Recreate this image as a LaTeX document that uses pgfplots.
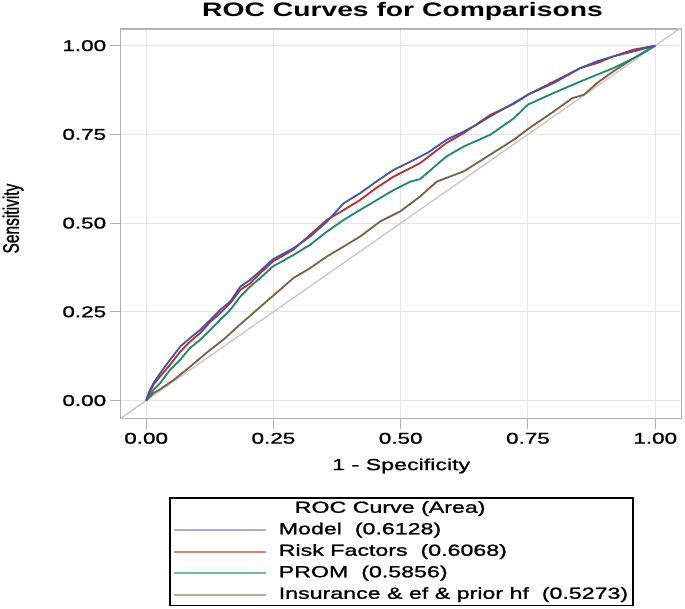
\documentclass[border=0pt]{standalone}
\usepackage{pgfplots}
\pgfplotsset{compat=1.18}
\usepackage{fontspec}
\setmainfont{Liberation Sans}[FakeStretch=1.45]
\newfontfamily\medsans{Liberation Sans}[FakeStretch=1.45, FakeBold=1.2]
\newfontfamily\plainsans{Liberation Sans}[FakeBold=1.2]
\definecolor{cModel}{RGB}{69,84,170}
\definecolor{cRisk}{RGB}{190,45,45}
\definecolor{cProm}{RGB}{30,135,110}
\definecolor{cIns}{RGB}{130,95,60}
\definecolor{gridc}{RGB}{228,228,228}
\definecolor{axc}{RGB}{178,178,178}
\begin{document}
\begin{tikzpicture}
\path[use as bounding box] (-120.7pt,-190.7pt) rectangle (564.3pt,418.3pt);
\begin{axis}[
  width=561pt, height=389.3pt, scale only axis,
  xmin=-0.05, xmax=1.052, ymin=-0.05, ymax=1.047,
  xtick={0,0.25,0.5,0.75,1}, ytick={0,0.25,0.5,0.75,1},
  xticklabels={0.00,0.25,0.50,0.75,1.00},
  yticklabels={0.00,0.25,0.50,0.75,1.00},
  /pgf/number format/assume math mode=true,
  tick label style={font=\medsans\fontsize{15.5}{18}\selectfont},
  tick align=outside, major tick length=11pt,
  tick style={axc, line width=1pt},
  xtick pos=bottom, ytick pos=left,
  axis line style={axc, line width=1.2pt},
  grid=major, major grid style={gridc, line width=1pt},
  xlabel={1 - Specificity},
  xlabel style={font=\medsans\fontsize{16}{18}\selectfont, at={(axis description cs:0.5,-0.1225)}, anchor=center},
  ylabel={\scalebox{0.69}[1]{\fontsize{22.5}{24}\plainsans Sensitivity}},
  ylabel style={at={(axis description cs:-0.192,0.513)}, anchor=center},
  legend style={at={(axis description cs:0.0861,-0.2022)}, anchor=north west,
    draw=black, line width=1.5pt, inner xsep=3pt, inner ysep=1pt,
    font=\medsans\fontsize{16}{18}\selectfont, row sep=2pt,
    nodes={text height=12pt, text depth=3.5pt},
    /tikz/every odd column/.append style={column sep=10pt}},
  legend cell align=left,
  legend image code/.code={\draw[#1] (0pt,0pt) -- (92pt,0pt);},
]
\addplot[gray!45, line width=1.3pt, forget plot] coordinates {(-0.05,-0.05) (1.06,1.06)};
\addplot[cIns, line width=1.8pt, forget plot] coordinates {(0,0) (0.0144,0.021) (0.0275,0.032) (0.054,0.058) (0.086,0.095) (0.119,0.135) (0.152,0.172) (0.185,0.215) (0.217,0.255) (0.250,0.296) (0.289,0.345) (0.322,0.373) (0.355,0.406) (0.388,0.434) (0.420,0.462) (0.460,0.505) (0.499,0.533) (0.538,0.575) (0.571,0.617) (0.624,0.646) (0.676,0.693) (0.722,0.735) (0.750,0.765) (0.801,0.815) (0.837,0.852) (0.860,0.862) (0.886,0.895) (0.918,0.928) (0.958,0.965) (1,1)};
\addplot[cProm, line width=1.8pt, forget plot] coordinates {(0,0) (0.005,0.010) (0.0144,0.030) (0.0275,0.049) (0.047,0.087) (0.067,0.115) (0.086,0.148) (0.106,0.171) (0.126,0.199) (0.145,0.227) (0.165,0.255) (0.185,0.293) (0.204,0.321) (0.224,0.345) (0.249,0.378) (0.289,0.410) (0.322,0.439) (0.355,0.476) (0.388,0.509) (0.420,0.537) (0.453,0.565) (0.486,0.593) (0.519,0.617) (0.538,0.624) (0.590,0.688) (0.624,0.716) (0.676,0.749) (0.722,0.795) (0.750,0.834) (0.801,0.867) (0.853,0.899) (0.918,0.937) (0.958,0.965) (1,1)};
\addplot[cRisk, line width=1.8pt, forget plot] coordinates {(0,0) (0.005,0.018) (0.0144,0.045) (0.0275,0.068) (0.047,0.101) (0.067,0.138) (0.086,0.166) (0.106,0.190) (0.126,0.222) (0.145,0.246) (0.165,0.274) (0.185,0.312) (0.204,0.330) (0.224,0.359) (0.249,0.392) (0.289,0.425) (0.322,0.467) (0.355,0.509) (0.388,0.537) (0.420,0.565) (0.453,0.600) (0.486,0.631) (0.519,0.655) (0.538,0.669) (0.590,0.726) (0.624,0.754) (0.676,0.805) (0.722,0.836) (0.750,0.862) (0.801,0.899) (0.853,0.937) (0.886,0.951) (0.918,0.970) (0.958,0.989) (1,1)};
\addplot[cModel, line width=1.8pt, forget plot] coordinates {(0,0) (0.005,0.022) (0.0144,0.049) (0.0275,0.077) (0.047,0.115) (0.067,0.152) (0.086,0.176) (0.106,0.199) (0.126,0.227) (0.145,0.255) (0.165,0.279) (0.185,0.321) (0.204,0.340) (0.224,0.365) (0.249,0.398) (0.289,0.429) (0.322,0.462) (0.355,0.504) (0.388,0.556) (0.420,0.584) (0.453,0.618) (0.486,0.650) (0.519,0.673) (0.555,0.700) (0.590,0.735) (0.624,0.758) (0.650,0.778) (0.676,0.801) (0.722,0.838) (0.750,0.862) (0.801,0.895) (0.853,0.937) (0.886,0.956) (0.918,0.970) (0.958,0.984) (1,1)};
\addlegendimage{empty legend}
\addlegendentry{\hspace*{16pt}ROC Curve (Area)}
\addlegendimage{cModel!45, line width=2pt}
\addlegendentry{Model\ \ (0.6128)}
\addlegendimage{cRisk!60, line width=2pt}
\addlegendentry{Risk Factors\ \ (0.6068)}
\addlegendimage{cProm!60, line width=2pt}
\addlegendentry{PROM\ \ (0.5856)}
\addlegendimage{cIns!55, line width=2pt}
\addlegendentry{Insurance \& ef \& prior hf\ \ (0.5273)}
\end{axis}
\node[anchor=base, font=\fontsize{19.5}{22}\selectfont\bfseries] at (281.8pt,401.6pt) {ROC Curves for Comparisons};
\end{tikzpicture}
\end{document}
